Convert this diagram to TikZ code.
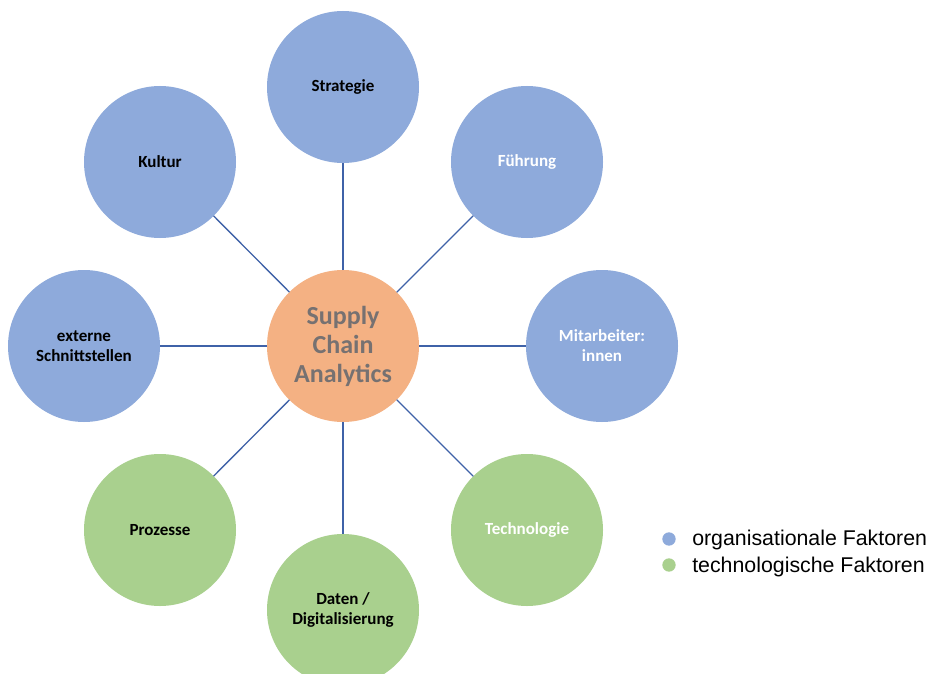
\documentclass[tikz,border=0pt]{standalone}
\usepackage{fontspec}
\setmainfont{Carlito}
\newfontfamily\legendfont{Liberation Sans}
\definecolor{orgblue}{HTML}{8EAADB}
\definecolor{techgreen}{HTML}{A9D08E}
\definecolor{coreorange}{HTML}{F4B183}
\definecolor{linkblue}{HTML}{3F62A8}
\definecolor{coregray}{HTML}{767171}
\tikzset{
  factor/.style={circle, minimum size=114pt, inner sep=0pt, outer sep=0pt,
    align=center, font=\bfseries\fontsize{12.75pt}{15pt}\selectfont},
  org/.style={factor, fill=orgblue},
  tech/.style={factor, fill=techgreen},
  core/.style={circle, minimum size=114pt, inner sep=0pt, outer sep=0pt,
    fill=coreorange, align=center, text=coregray,
    font=\bfseries\fontsize{19.5pt}{21.75pt}\selectfont},
  link/.style={draw=linkblue, line width=1pt},
  bullet/.style={circle, minimum size=10pt, inner sep=0pt},
  legendtext/.style={anchor=base west, inner sep=0pt,
    font=\legendfont\fontsize{16pt}{19pt}\selectfont}
}
\begin{document}
\begin{tikzpicture}[x=0.75pt, y=-0.75pt]
  \clip (0,0) rectangle (935,674);
  \fill[white] (0,0) rectangle (935,674);

  % hub
  \node[core] (sca) at (343,346) {Supply\\Chain\\Analytics};

  % surrounding factors
  \node[org]  (strat) at (343,87)  {Strategie};
  \node[org, text=white] (fuehr) at (527,162) {Führung};
  \node[org, text=white] (mitarb) at (602,346) {Mitarbeiter:\\innen};
  \node[tech, text=white] (techn) at (527,530) {Technologie};
  \node[tech] (daten) at (343,610) {Daten /\\Digitalisierung};
  \node[tech] (proz) at (160,530) {Prozesse};
  \node[org]  (extern) at (84,346) {externe\\Schnittstellen};
  \node[org]  (kultur) at (160,162) {Kultur};

  % spokes
  \foreach \f in {strat,fuehr,mitarb,techn,daten,proz,extern,kultur}
    \draw[link] (sca) -- (\f);

  % legend
  \node[bullet, fill=orgblue]   (legorg)  at (669,539) {};
  \node[bullet, fill=techgreen] (legtech) at (669,565) {};
  \node[legendtext] (legorgtxt)  at (692,545) {organisationale Faktoren};
  \node[legendtext] (legtechtxt) at (692,572) {technologische Faktoren};
\end{tikzpicture}
\end{document}
